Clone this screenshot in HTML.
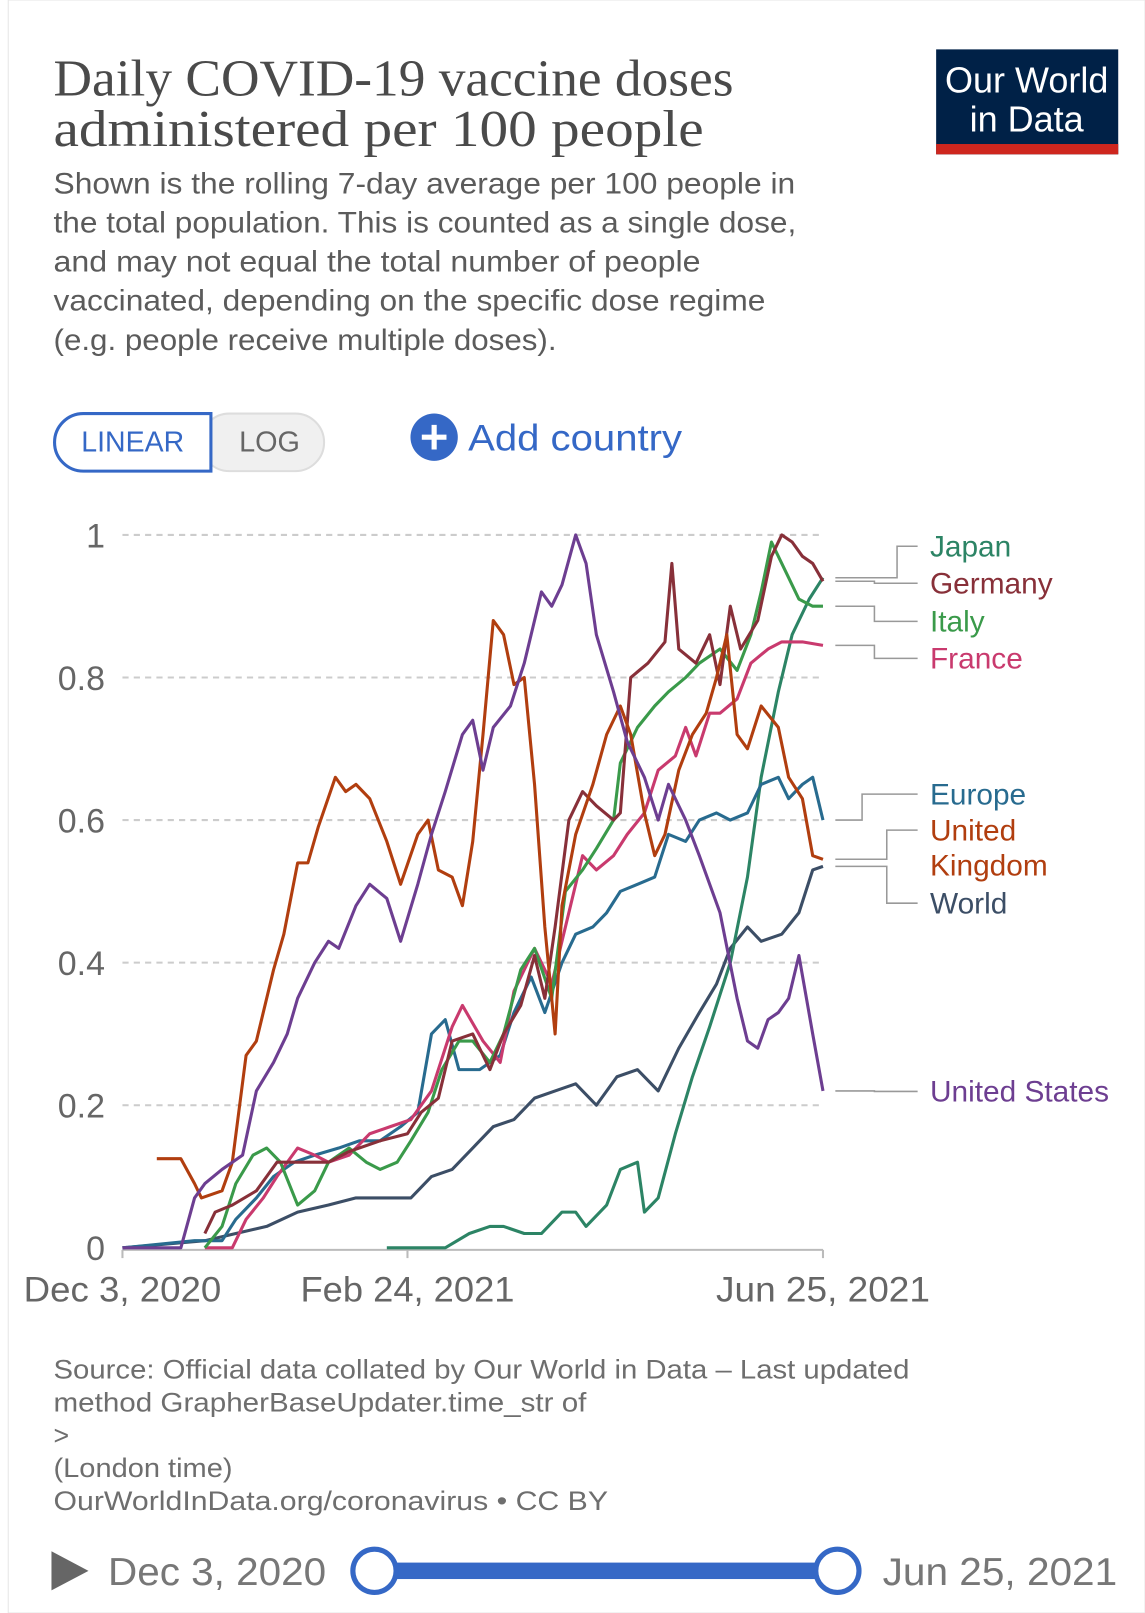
<!DOCTYPE html>
<html><head><meta charset="utf-8"><style>
html,body{margin:0;padding:0;background:#fff;}
svg{display:block;font-family:"Liberation Sans",sans-serif;}
</style></head><body>
<svg id="chart" width="1145" height="1613" viewBox="0 0 1113 1568" xmlns="http://www.w3.org/2000/svg">
<rect x="8" y="0" width="1105" height="1568" fill="#fff" stroke="#e6e6e6"/>
<g font-family="Liberation Serif, serif" font-size="50" fill="#4a4a4a">
<text x="52" y="93" textLength="661" lengthAdjust="spacingAndGlyphs">Daily COVID-19 vaccine doses</text>
<text x="52" y="142" textLength="632" lengthAdjust="spacingAndGlyphs">administered per 100 people</text>
</g>
<g font-size="29" fill="#5b5b5b">
<text x="52" y="188" textLength="721" lengthAdjust="spacingAndGlyphs">Shown is the rolling 7-day average per 100 people in</text>
<text x="52" y="226" textLength="722" lengthAdjust="spacingAndGlyphs">the total population. This is counted as a single dose,</text>
<text x="52" y="264" textLength="629" lengthAdjust="spacingAndGlyphs">and may not equal the total number of people</text>
<text x="52" y="302" textLength="692" lengthAdjust="spacingAndGlyphs">vaccinated, depending on the specific dose regime</text>
<text x="52" y="340" textLength="489" lengthAdjust="spacingAndGlyphs">(e.g. people receive multiple doses).</text>
</g>
<g>
<rect x="910" y="48" width="177" height="102" fill="#002147"/>
<rect x="910" y="140" width="177" height="10" fill="#ce261e"/>
<text x="998" y="90" fill="#fff" font-size="35" text-anchor="middle">Our World</text>
<text x="998" y="128" fill="#fff" font-size="35" text-anchor="middle">in Data</text>
</g>
<g>
<rect x="195" y="402" width="120" height="56" rx="28" fill="#f0f0f0" stroke="#ddd" stroke-width="2"/>
<path d="M205 402 H81 A28 28 0 0 0 81 458 H205 Z" fill="#fff" stroke="#3568c6" stroke-width="3"/>
<text x="129" y="439" text-anchor="middle" font-size="28" fill="#3568c6" textLength="100" lengthAdjust="spacingAndGlyphs">LINEAR</text>
<text x="262" y="439" text-anchor="middle" font-size="28" fill="#666">LOG</text>
</g>
<g>
<circle cx="422" cy="425" r="23" fill="#3568c6"/>
<path d="M410 425h24M422 413v24" stroke="#fff" stroke-width="5"/>
<text x="455" y="438" font-size="36" fill="#3568c6" textLength="208" lengthAdjust="spacingAndGlyphs">Add country</text>
</g>
<g id="plot"></g>
<g font-size="26" fill="#6e6e6e">
<text x="52" y="1340" textLength="832" lengthAdjust="spacingAndGlyphs">Source: Official data collated by Our World in Data – Last updated</text>
<text x="52" y="1372" textLength="518" lengthAdjust="spacingAndGlyphs">method GrapherBaseUpdater.time_str of</text>
<text x="52" y="1404">&gt;</text>
<text x="52" y="1436" textLength="174" lengthAdjust="spacingAndGlyphs">(London time)</text>
<text x="52" y="1468" textLength="539" lengthAdjust="spacingAndGlyphs">OurWorldInData.org/coronavirus • CC BY</text>
</g>
<g>
<path d="M50 1508 L86 1527 L50 1546 Z" fill="#666"/>
<text x="105" y="1541" font-size="38" fill="#777" textLength="212" lengthAdjust="spacingAndGlyphs">Dec 3, 2020</text>
<rect x="364" y="1519" width="450" height="16" fill="#3568c6"/>
<circle cx="364" cy="1527" r="21" fill="#fff" stroke="#3568c6" stroke-width="5"/>
<circle cx="814" cy="1527" r="21" fill="#fff" stroke="#3568c6" stroke-width="5"/>
<text x="858" y="1541" font-size="38" fill="#777" textLength="228" lengthAdjust="spacingAndGlyphs">Jun 25, 2021</text>
</g>
</svg>
<script>
const yTicks=[0,0.2,0.4,0.6,0.8,1];
const yTickLabels=["0","0.2","0.4","0.6","0.8","1"];
const xTicks=[0,83,204];
const xTickLabels=["Dec 3, 2020","Feb 24, 2021","Jun 25, 2021"];
const usDays=[0,17,21,24,29,35,39,44,48,51,56,60,63,68,72,77,81,86,90,94,99,102,105,108,113,117,122,125,128,132,135,138,143,147,152,156,159,164,168,174,179,182,185,188,191,194,197,201,204];
const usVals=[0,0,0.07,0.09,0.11,0.13,0.22,0.26,0.3,0.35,0.4,0.43,0.42,0.48,0.51,0.49,0.43,0.51,0.58,0.64,0.72,0.74,0.67,0.73,0.76,0.82,0.92,0.9,0.93,1.0,0.96,0.86,0.78,0.71,0.66,0.6,0.65,0.6,0.55,0.47,0.35,0.29,0.28,0.32,0.33,0.35,0.41,0.3,0.22];
const ukDays=[10,17,21,23,29,32,36,39,44,47,51,54,57,62,65,68,72,77,81,86,89,92,96,99,102,105,108,111,114,117,120,123,126,128,132,137,141,145,148,152,155,158,162,166,170,173,176,179,182,186,191,194,198,201,204];
const ukVals=[0.125,0.125,0.09,0.07,0.08,0.12,0.27,0.29,0.39,0.44,0.54,0.54,0.59,0.66,0.64,0.65,0.63,0.57,0.51,0.58,0.6,0.53,0.52,0.48,0.57,0.72,0.88,0.86,0.79,0.8,0.65,0.45,0.3,0.48,0.58,0.65,0.72,0.76,0.72,0.61,0.55,0.58,0.67,0.72,0.75,0.8,0.86,0.72,0.7,0.76,0.73,0.66,0.63,0.55,0.545];
const deDays=[24,27,32,39,45,54,60,66,75,83,87,92,96,102,107,111,116,120,123,126,130,134,138,143,145,148,153,158,160,162,167,171,174,177,180,185,189,192,195,198,201,204];
const deVals=[0.02,0.05,0.06,0.08,0.12,0.12,0.12,0.135,0.15,0.16,0.19,0.21,0.29,0.3,0.25,0.3,0.34,0.41,0.35,0.45,0.6,0.64,0.62,0.6,0.61,0.8,0.82,0.85,0.96,0.84,0.82,0.86,0.79,0.9,0.84,0.88,0.97,1.0,0.99,0.97,0.96,0.935];
const itDays=[24,29,33,38,42,46,51,56,60,66,71,75,80,84,89,93,98,102,107,111,116,120,125,129,134,138,143,145,150,155,159,164,168,174,179,183,186,189,194,197,201,204];
const itVals=[0,0.03,0.09,0.13,0.14,0.12,0.06,0.08,0.12,0.14,0.12,0.11,0.12,0.15,0.19,0.25,0.29,0.29,0.26,0.3,0.39,0.42,0.35,0.5,0.53,0.56,0.6,0.68,0.73,0.76,0.78,0.8,0.82,0.84,0.81,0.86,0.92,0.99,0.94,0.91,0.9,0.9];
const frDays=[24,32,36,41,45,51,56,60,66,72,78,84,90,96,99,105,110,114,120,125,129,134,138,143,147,152,156,161,164,167,171,174,179,183,188,192,198,204];
const frVals=[0,0,0.04,0.07,0.1,0.14,0.13,0.12,0.13,0.16,0.17,0.18,0.22,0.31,0.34,0.29,0.26,0.36,0.42,0.37,0.45,0.55,0.53,0.55,0.58,0.61,0.67,0.69,0.73,0.69,0.75,0.75,0.77,0.82,0.84,0.85,0.85,0.845];
const euDays=[0,21,29,33,39,44,50,56,63,69,75,81,86,90,94,98,104,110,114,119,123,128,132,137,141,145,150,155,159,164,168,173,177,182,186,191,194,198,201,204];
const euVals=[0,0.01,0.01,0.04,0.07,0.1,0.12,0.13,0.14,0.15,0.15,0.17,0.19,0.3,0.32,0.25,0.25,0.27,0.33,0.38,0.33,0.4,0.44,0.45,0.47,0.5,0.51,0.52,0.58,0.57,0.6,0.61,0.6,0.61,0.65,0.66,0.63,0.65,0.66,0.6];
const wdDays=[0,24,33,42,51,60,68,75,84,90,96,102,108,114,120,126,132,138,144,150,156,162,168,173,177,182,186,192,197,201,204];
const wdVals=[0,0.01,0.02,0.03,0.05,0.06,0.07,0.07,0.07,0.1,0.11,0.14,0.17,0.18,0.21,0.22,0.23,0.2,0.24,0.25,0.22,0.28,0.33,0.37,0.42,0.45,0.43,0.44,0.47,0.53,0.535];
const jpDays=[77,94,101,107,111,117,122,128,132,135,141,145,150,152,156,161,166,171,177,182,186,191,195,200,204];
const jpVals=[0,0,0.02,0.03,0.03,0.02,0.02,0.05,0.05,0.03,0.06,0.11,0.12,0.05,0.07,0.16,0.24,0.31,0.4,0.52,0.66,0.78,0.86,0.91,0.94];

const NS="http://www.w3.org/2000/svg";
const plot=document.getElementById('plot');
const X0=119,X1=800,Y0=1213,Y1=520,DMAX=204;
function xs(d){return X0+(X1-X0)*d/DMAX;}
function ys(v){return Y0-(Y0-Y1)*v;}
function mk(tag,attrs){const e=document.createElementNS(NS,tag);for(const k in attrs)e.setAttribute(k,attrs[k]);plot.appendChild(e);return e;}
yTicks.forEach((t,i)=>{
  if(t>0){const g=mk('line',{x1:X0,x2:X1,y1:ys(t),y2:ys(t),stroke:'#ccc','stroke-width':2,'stroke-dasharray':'6,5'});
  
  }
  const l=mk('text',{x:102,y:ys(t)+12,'text-anchor':'end','font-size':33,fill:'#666'});
  l.textContent=yTickLabels[i];
  
  
});
const ax=mk('line',{x1:X0,x2:X1,y1:Y0+2,y2:Y0+2,stroke:'#bbb','stroke-width':2});


xTicks.forEach((t,i)=>{
  const tk=mk('line',{x1:xs(t),x2:xs(t),y1:Y0+2,y2:Y0+10,stroke:'#bbb','stroke-width':2});
  
  
  const l=mk('text',{x:xs(t),y:Y0+52,'text-anchor':'middle','font-size':34,fill:'#666',textLength:(i==0?192:208),lengthAdjust:'spacingAndGlyphs'});
  l.textContent=xTickLabels[i];
  
  
});
const series=[
 ['world',wdDays,wdVals,'#3c4e66'],
 ['japan',jpDays,jpVals,'#2c8465'],
 ['europe',euDays,euVals,'#286b8f'],
 ['france',frDays,frVals,'#c93a6e'],
 ['italy',itDays,itVals,'#3a9a4a'],
 ['germany',deDays,deVals,'#883039'],
 ['uk',ukDays,ukVals,'#b13e0f'],
 ['us',usDays,usVals,'#6d3e91']];
series.forEach(s=>{
  const d=s[1].map((dd,i)=>(i?'L':'M')+xs(dd).toFixed(1)+' '+ys(s[2][i]).toFixed(1)).join(' ');
  const p=mk('path',{d:d,fill:'none',stroke:s[3],'stroke-width':3,'stroke-linejoin':'round'});
  
  
});
const labels=[
 ['Japan','#2c8465',531,wdDays,jpVals],
 ['Germany','#883039',567,deDays,deVals],
 ['Italy','#3a9a4a',604,itDays,itVals],
 ['France','#c93a6e',640,frDays,frVals],
 ['Europe','#286b8f',772,euDays,euVals],
 ['United','#b13e0f',807,ukDays,ukVals],
 ['World','#3c4e66',878,wdDays,wdVals],
 ['United States','#6d3e91',1061,usDays,usVals]];
labels.forEach(l=>{
  const endV=l[4][l[4].length-1];
  const yEnd=ys(endV);
  const mid=l[0]==='World'||l[0]==='United'?862:(l[0]==='Japan'?872:(l[0]==='Europe'?838:850));
  const c=mk('path',{d:`M812 ${yEnd.toFixed(1)} H${mid} V${l[2]} H892`,fill:'none',stroke:'#999','stroke-width':1.5});
  
  
  const t=mk('text',{x:904,y:l[2]+10,'font-size':29,fill:l[1]});
  t.textContent=l[0];
  
  
});
const k=mk('text',{x:904,y:851,'font-size':29,fill:'#b13e0f'});
k.textContent='Kingdom';


</script>
</body></html>
